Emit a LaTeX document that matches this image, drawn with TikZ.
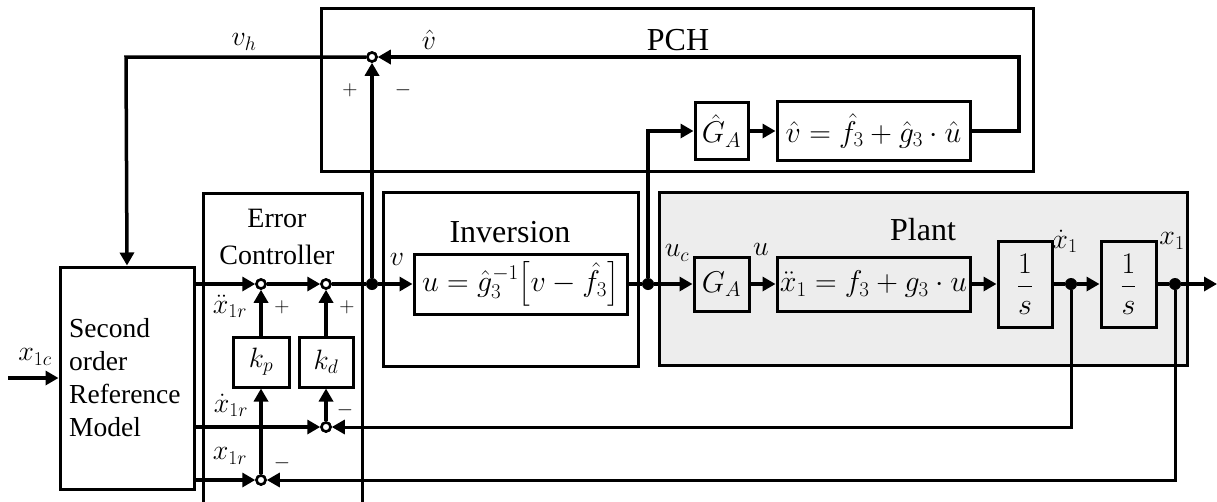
\RequirePackage{fix-cm}
\documentclass[tikz,border=0pt]{standalone}
\usepackage{amsmath}
\usepackage{fontspec}
\setmainfont{Liberation Serif}
\usetikzlibrary{arrows.meta,calc}
\definecolor{plantgray}{HTML}{EDEDED}
\begin{document}
\begin{tikzpicture}[x=1pt,y=-1pt,
  box/.style={draw, line width=3pt, inner sep=0pt},
  conn/.style={line width=3.5pt},
  sig/.style={conn, -{Triangle[length=13pt,width=14pt]}},
  sumc/.style={draw, circle, fill=white, line width=2.5pt, minimum size=9pt, inner sep=0pt},
  jdot/.style={circle, fill=black, minimum size=12pt, inner sep=0pt},
  ttl/.style={font=\fontsize{32}{36}\selectfont, inner sep=0pt},
  txt/.style={font=\fontsize{28}{33}\selectfont, inner sep=0pt},
  lab/.style={font=\fontsize{28}{32}\selectfont, inner sep=0pt},
  eqn/.style={font=\fontsize{30}{34}\selectfont},
  sgn/.style={font=\fontsize{21}{24}\selectfont, inner sep=0pt},
]
\useasboundingbox (0,0) rectangle (1217,501);

% ---- frames ----
\node[box, fill=plantgray, minimum width=528pt, minimum height=173pt] (plant) at (923,278.5) {};
\node[box, minimum width=255pt, minimum height=174pt] (invbox) at (510.5,279) {};
\node[box, minimum width=712pt, minimum height=163pt] (pch) at (677,89.5) {};
\draw[line width=3pt] (203,505) -- (203,193) -- (362,193) -- (362,505);

% ---- titles ----
\node[ttl] (tpch) at (678,40) {PCH};
\node[ttl] (tinv) at (510,232) {Inversion};
\node[ttl] (tplant) at (923,230) {Plant};
\node[txt] (terr) at (277,218) {Error};
\node[txt] (tctl) at (277,255) {Controller};

% ---- blocks ----
\node[box, minimum width=134pt, minimum height=222pt] (ref) at (127,378) {};
\node[txt, anchor=west, align=left, font=\fontsize{27.5}{33}\selectfont] (reftxt) at (69,378) {Second\\order\\Reference\\Model};
\node[box, minimum width=56pt, minimum height=50pt, lab] (kp) at (261,362) {$k_p$};
\node[box, minimum width=54pt, minimum height=50pt, lab] (kd) at (326,362) {$k_d$};
\node[box, fill=white, minimum width=213pt, minimum height=60pt, eqn] (inv) at (520.5,284) {$u=\hat{g}_3^{-1}\bigl[v-\hat{f}_3\bigr]$};
\node[box, minimum width=55pt, minimum height=54pt, eqn] (ga) at (721.5,284) {$G_A$};
\node[box, minimum width=193pt, minimum height=54pt, eqn] (eq) at (873.5,284) {$\ddot{x}_1=f_3+g_3\cdot u$};
\node[box, minimum width=54pt, minimum height=86pt, eqn] (int1) at (1025,284) {$\dfrac{1}{s}$};
\node[box, minimum width=55pt, minimum height=86pt, eqn] (int2) at (1128.5,284) {$\dfrac{1}{s}$};
\node[box, minimum width=53pt, minimum height=57pt, eqn] (gah) at (721.5,131) {$\hat{G}_A$};
\node[box, minimum width=193pt, minimum height=59pt, eqn] (eqh) at (873.5,131) {$\hat{v}=\hat{f}_3+\hat{g}_3\cdot\hat{u}$};

% ---- points ----
\node[sumc] (s0) at (372,57) {};
\node[sumc] (s1) at (261,284) {};
\node[sumc] (s2) at (326,284) {};
\node[sumc] (s3) at (326,427) {};
\node[sumc] (s4) at (261,480) {};
\node[jdot] (j1) at (372,284) {};
\node[jdot] (j2) at (648,284) {};
\node[jdot] (j3) at (1071,284) {};
\node[jdot] (j4) at (1175,284) {};
\coordinate (xin) at (8,378);
\coordinate (out) at (1217,284);
\coordinate (vhc) at (126,57);
\coordinate (pchr) at (1019,57);
\coordinate (pchb) at (1019,131);
\coordinate (gup) at (648,131);
\coordinate (fb1) at (1071,427);
\coordinate (fb2) at (1175,480);

% ---- connectors ----
\draw[sig] (xin) -- (ref.west);
\draw[sig] (ref.east |- s1) -- (s1);
\draw[sig] (s1) -- (s2);
\draw[conn] (s2) -- (j1);
\draw[sig] (j1) -- (inv.west);
\draw[sig] (j1) -- (s0);
\draw[sig, line join=miter] (s0) -- (vhc) -- (ref.north);
\draw[sig] (kp) -- (s1);
\draw[sig] (kd) -- (s2);
\draw[sig] (ref.east |- s3) -- (s3);
\draw[sig] (s3) -- (kd);
\draw[sig] (ref.east |- s4) -- (s4);
\draw[sig] (s4) -- (kp);
\draw[conn] (inv.east) -- (j2);
\draw[sig] (j2) -- (ga.west);
\draw[sig] (ga) -- (eq);
\draw[sig] (eq) -- (int1);
\draw[conn] (int1) -- (j3);
\draw[sig] (j3) -- (int2);
\draw[conn] (int2) -- (j4);
\draw[sig] (j4) -- (out);
\draw[sig, line width=3pt, line join=miter] (j3) -- (fb1) -- (s3);
\draw[sig, line width=3pt, line join=miter] (j4) -- (fb2) -- (s4);
\draw[sig, line join=miter] (j2) -- (gup) -- (gah.west);
\draw[sig] (gah) -- (eqh);
\draw[sig, line join=miter] (eqh.east) -- (pchb) -- (pchr) -- (s0);

% redraw sums on top
\node[sumc] at (s0) {};
\node[sumc] at (s1) {};
\node[sumc] at (s2) {};
\node[sumc] at (s3) {};
\node[sumc] at (s4) {};

% ---- labels ----
\node[lab] (lxc) at (35,357) {$x_{1c}$};
\node[lab] (lxdd) at (230,306) {$\ddot{x}_{1r}$};
\node[lab] (lxd) at (231,405) {$\dot{x}_{1r}$};
\node[lab] (lx) at (230,456) {$x_{1r}$};
\node[sgn] (p1) at (282,307) {$+$};
\node[sgn] (p2) at (347,307) {$+$};
\node[sgn] (m3) at (345,410) {$-$};
\node[sgn] (m4) at (282,463) {$-$};
\node[lab] (lv) at (397,259) {$v$};
\node[lab] (luc) at (677,253) {$u_c$};
\node[lab] (lu) at (761,249) {$u$};
\node[lab] (lx1d) at (1065,241) {$\dot{x}_1$};
\node[lab] (lx1) at (1172,241) {$x_1$};
\node[lab] (lvh) at (244,42) {$v_h$};
\node[lab] (lvhat) at (429,40) {$\hat{v}$};
\node[sgn] (p0) at (350,90) {$+$};
\node[sgn] (m0) at (403,90) {$-$};
\end{tikzpicture}
\end{document}
